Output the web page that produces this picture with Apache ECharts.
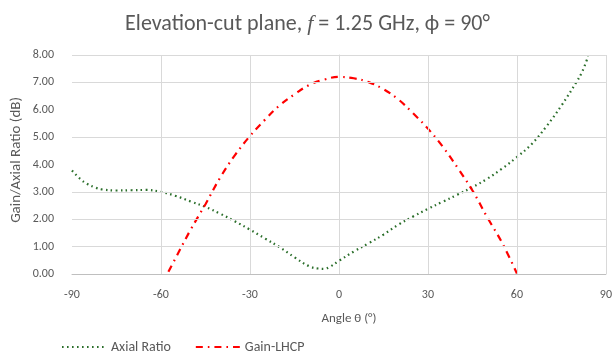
<!DOCTYPE html>
<html><head><meta charset="utf-8">
<script src="https://cdn.jsdelivr.net/npm/echarts@6/dist/echarts.min.js"></script>
<style>html,body{margin:0;padding:0;background:#fff}#c{width:615px;height:354px}</style>
</head><body><div id="c"></div>
<script>
var arAngles = [-90,-87,-85,-82,-80,-75,-70,-65,-60,-55,-50,-45,-40,-35,-30,-25,-20,-15,-10,-7,-5,-3,0,5,10,15,20,25,30,35,40,45,50,55,60,65,70,75,80,82,84];
var arValues = [3.78,3.45,3.30,3.15,3.09,3.05,3.06,3.07,3.00,2.85,2.65,2.45,2.20,1.92,1.62,1.30,0.98,0.61,0.28,0.20,0.19,0.27,0.48,0.82,1.12,1.44,1.80,2.10,2.38,2.64,2.90,3.17,3.48,3.85,4.27,4.75,5.40,6.15,7.00,7.39,7.95];
var gainAngles = [-57.5,-55,-50,-45,-40,-35,-30,-25,-20,-15,-10,-5,0,5,10,15,20,25,30,35,40,45,50,55,60];
var gainValues = [0.08,0.60,1.62,2.55,3.53,4.35,5.04,5.63,6.16,6.56,6.91,7.10,7.20,7.15,7.01,6.75,6.38,5.87,5.31,4.65,3.88,3.05,2.07,1.14,0.02];
var xTicks = [-90,-60,-30,0,30,60,90];
var yTicks = [0,1,2,3,4,5,6,7,8];
var xGrid = [-60,-30,30,60,90];
var yGrid = [1,2,3,5,7,8];

function zip(a,b){return a.map(function(v,i){return [v,b[i]];});}
var font = 'Calibri, Carlito, "Open Sans", sans-serif';
var chart = echarts.init(document.getElementById('c'), null, {renderer:'canvas'});
chart.setOption({
  animation:false,
  backgroundColor:'#fff',
  title:{
    text:'Elevation-cut plane, {i|f} = 1.25 GHz, \u03d5 = 90\u00b0',
    left:'center', top:8,
    textStyle:{fontFamily:font,fontSize:22,fontWeight:'normal',color:'#595959',
      rich:{i:{fontFamily:'"Liberation Serif", serif',fontStyle:'italic',fontSize:22,color:'#595959'}}}
  },
  graphic:[
    {type:'text',left:9,top:97,rotation:Math.PI/2,
     style:{text:'Gain/Axial Ratio (dB)',font:'15px '+font,fill:'#595959'}}
  ],
  grid:{left:72,right:9,top:55,bottom:80},
  legend:{
    top:335,left:56,itemGap:24,itemWidth:44,itemHeight:10,
    itemStyle:{opacity:0},
    textStyle:{fontFamily:font,fontSize:14,color:'#595959'},
    data:['Axial Ratio','Gain-LHCP']
  },
  xAxis:{
    type:'value',min:-90,max:90,interval:30,
    name:'Angle \u03b8 (\u00b0)',nameLocation:'middle',nameGap:38,
    nameTextStyle:{fontFamily:font,fontSize:13,color:'#595959',padding:[0,0,0,20]},
    axisLine:{show:true,lineStyle:{color:'#bfbfbf'}},
    axisTick:{show:false},
    axisLabel:{fontFamily:font,fontSize:12,color:'#595959',margin:15},
    splitLine:{show:false}
  },
  yAxis:{
    type:'value',min:0,max:8,interval:1,
    axisLine:{show:true,lineStyle:{color:'#d9d9d9'}},
    axisTick:{show:false},
    axisLabel:{fontFamily:font,fontSize:12,color:'#595959',margin:18,formatter:function(v){return v.toFixed(2);}},
    splitLine:{show:false}
  },
  series:[
    {type:'line',name:'grid',data:[],silent:true,z:1,
     markLine:{silent:true,symbol:'none',label:{show:false},animation:false,
       lineStyle:{color:'#d9d9d9',width:1,type:'solid'},
       data:xGrid.map(function(v){return {xAxis:v};}).concat(yGrid.map(function(v){return {yAxis:v};}))}},
    {type:'line',name:'Axial Ratio',data:zip(arAngles,arValues),smooth:0.4,symbol:'none',z:3,
     itemStyle:{color:'#2a6e2a'},
     lineStyle:{color:'#2a6e2a',width:2.2,type:[1.6,3.4]}},
    {type:'line',name:'Gain-LHCP',data:zip(gainAngles,gainValues),smooth:0.4,symbol:'none',z:4,
     itemStyle:{color:'#ff0000'},
     lineStyle:{color:'#ff0000',width:2.2,type:[7,5,1.6,5]}}
  ]
});
</script></body></html>
